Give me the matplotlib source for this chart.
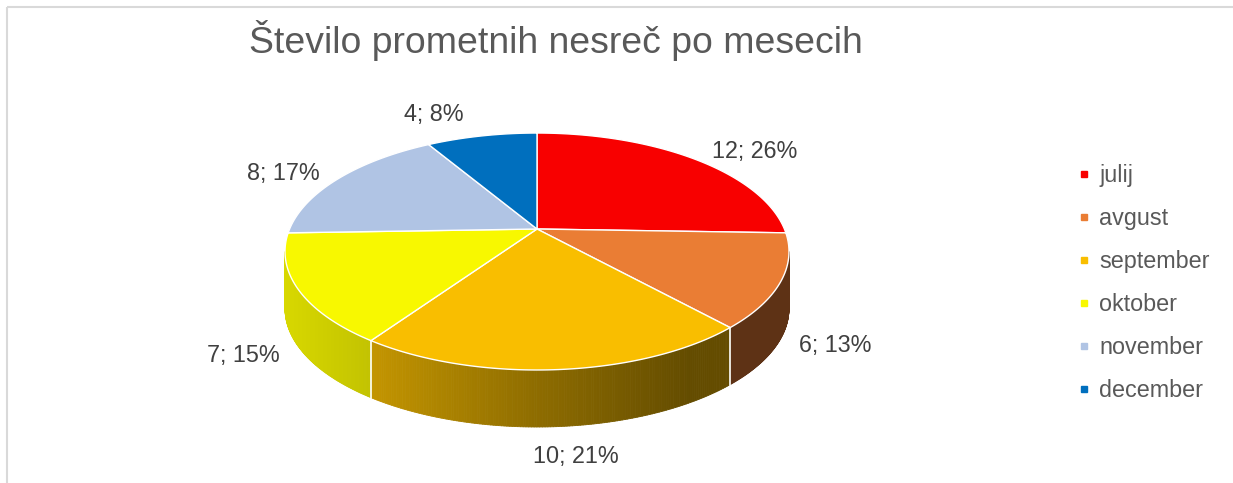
import numpy as np
import matplotlib.pyplot as plt
import matplotlib.colors as mcolors
from matplotlib.patches import Polygon, Rectangle
from matplotlib.collections import PolyCollection
from matplotlib.lines import Line2D

plt.rcParams['font.family'] = ['Liberation Sans', 'DejaVu Sans']

# data
months = ['julij', 'avgust', 'september', 'oktober', 'november', 'december']
accidents = [12, 6, 10, 7, 8, 4]
shares = ['26%', '13%', '21%', '15%', '17%', '8%']
colors = ['#f80000', '#ea7d34', '#f9be00', '#f8f800', '#b0c4e4', '#006fbe']

# 3D pie geometry in pixels: unit disc seen in perspective
CX, CY = 537, 229
RX, RY, PERSP = 247.4, 114.2, -0.19
DEPTH = 57


def project(phi, r=1.0):
    # phi runs clockwise from the far side (12 o'clock)
    X = r * np.sin(phi)
    Y = -r * np.cos(phi)
    d = 1 + PERSP * Y
    return CX + RX * X / d, CY + RY * Y / d


def shade(x):
    # side wall lighting: bright on the left, dark on the right
    return np.interp(x, [285, 375, 537, 690, 790], [0.87, 0.78, 0.57, 0.40, 0.40])


fig = plt.figure(figsize=(12.33, 4.83), dpi=100)
ax = fig.add_axes([0, 0, 1, 1])
ax.set_xlim(0, 1233)
ax.set_ylim(483, 0)
ax.axis('off')

# chart frame (cut off on the right and bottom)
ax.add_patch(Rectangle((7, 7), 1400, 600, fill=False, edgecolor='#d9d9d9', lw=1.5))

total = sum(accidents)
edges = np.concatenate([[0], np.cumsum(accidents)]) / total * 2 * np.pi

# the side wall is seen between the leftmost and rightmost rim points
side_lo = np.arccos(PERSP)
side_hi = 2 * np.pi - side_lo

for i in range(len(accidents)):
    a0 = max(edges[i], side_lo)
    a1 = min(edges[i + 1], side_hi)
    if a1 <= a0:
        continue
    ph = np.linspace(a0, a1, 150)
    xs, ys = project(ph)
    base = np.array(mcolors.to_rgb(colors[i]))
    polys, fcs = [], []
    for j in range(len(ph) - 1):
        polys.append([(xs[j], ys[j]), (xs[j + 1], ys[j + 1]),
                      (xs[j + 1], ys[j + 1] + DEPTH), (xs[j], ys[j] + DEPTH)])
        fcs.append(np.clip(base * shade((xs[j] + xs[j + 1]) / 2), 0, 1))
    ax.add_collection(PolyCollection(polys, facecolors=fcs, edgecolors=fcs, linewidths=0.6))

for e in edges[1:-1]:
    if side_lo < e < side_hi:
        x, y = project(e)
        ax.plot([x, x], [y, y + DEPTH], color='white', lw=1.2)

# top face
for i in range(len(accidents)):
    ph = np.linspace(edges[i], edges[i + 1], 200)
    xs, ys = project(ph)
    pts = [(CX, CY)] + list(zip(xs, ys))
    ax.add_patch(Polygon(pts, closed=True, facecolor=colors[i], edgecolor='white',
                         lw=1.0, joinstyle='round'))

# data labels, just outside each slice
for i, (v, s) in enumerate(zip(accidents, shares)):
    mid = (edges[i] + edges[i + 1]) / 2
    X, Y = np.sin(mid), -np.cos(mid)
    x, y = project(mid)
    if Y > 0:
        y += DEPTH
        ly = y + 18 * Y
    else:
        ly = y + 10 * Y
    lx = x + 18 * np.sign(X)
    ha = 'center' if abs(X) < 0.15 else ('left' if X > 0 else 'right')
    va = 'center' if abs(Y) < 0.9 else ('top' if Y > 0 else 'bottom')
    ax.text(lx, ly, f'{v}; {s}', ha=ha, va=va, fontsize=16.8, color='#404040')

fig.text(556 / 1233, 1 - 53 / 483, 'Število prometnih nesreč po mesecih',
         ha='center', va='baseline', fontsize=26.9, color='#595959')

handles = [Line2D([], [], ls='none', marker='s', ms=5, color=c) for c in colors]
fig.legend(handles, months, loc='upper left', bbox_to_anchor=(1077 / 1233, 1 - 164 / 483),
           frameon=False, fontsize=16.8, labelcolor='#595959', handlelength=0.6,
           handletextpad=0.35, labelspacing=0.86, borderpad=0, borderaxespad=0)

fig.savefig('out.png', dpi=100)
